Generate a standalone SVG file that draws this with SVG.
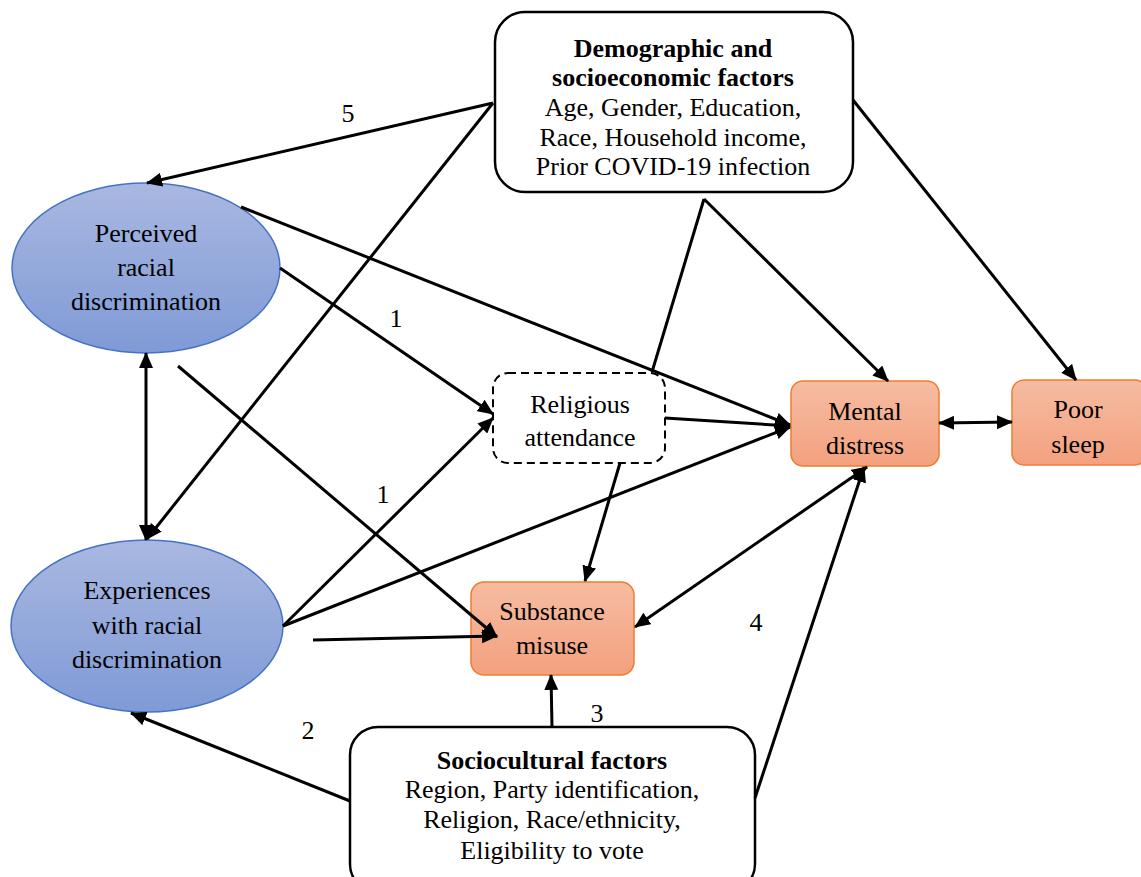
<svg xmlns="http://www.w3.org/2000/svg" width="1141" height="877" viewBox="0 0 1141 877">
<defs>
<linearGradient id="gBlue" x1="0" y1="0" x2="0" y2="1">
<stop offset="0" stop-color="#A9B8E1"/>
<stop offset="1" stop-color="#7F9AD6"/>
</linearGradient>
<linearGradient id="gOrange" x1="0" y1="0" x2="0" y2="1">
<stop offset="0" stop-color="#F6BCA2"/>
<stop offset="1" stop-color="#F3A17E"/>
</linearGradient>
<marker id="ah" markerUnits="userSpaceOnUse" markerWidth="16" markerHeight="14" refX="15" refY="7" orient="auto-start-reverse">
<path d="M0,0 L16,7 L0,14 Z" fill="#000"/>
</marker>
<style>
text{font-family:"Liberation Serif","Times New Roman",serif;font-size:26px;fill:#000;text-anchor:middle}
.b{font-weight:bold}
.box{fill:#fff;stroke:#000;stroke-width:2.5}
.ell{fill:url(#gBlue);stroke:#4472C4;stroke-width:1.5}
.or{fill:url(#gOrange);stroke:#ED7D31;stroke-width:1.5}
.dash{fill:#fff;stroke:#000;stroke-width:2;stroke-dasharray:8,5}
.c{fill:none;stroke:#000;stroke-width:3}
.a{marker-end:url(#ah)}
.d{marker-start:url(#ah);marker-end:url(#ah)}
</style>
</defs>
<rect width="1141" height="877" fill="#fff"/>

<g id="demographic">
<rect class="box" x="495" y="12" width="358" height="180" rx="30"/>
<text class="b" x="673" y="57">Demographic and</text>
<text class="b" x="673" y="86">socioeconomic factors</text>
<text x="673" y="116">Age, Gender, Education,</text>
<text x="673" y="146">Race, Household income,</text>
<text x="673" y="175">Prior COVID-19 infection</text>
</g>

<g id="perceived">
<ellipse class="ell" cx="146" cy="268" rx="134" ry="85"/>
<text x="146" y="242">Perceived</text>
<text x="146" y="276">racial</text>
<text x="146" y="310">discrimination</text>
</g>

<g id="experiences">
<ellipse class="ell" cx="147" cy="626" rx="136" ry="86"/>
<text x="147" y="599">Experiences</text>
<text x="147" y="634">with racial</text>
<text x="147" y="668">discrimination</text>
</g>

<g id="religious">
<rect class="dash" x="493" y="373" width="172" height="90" rx="15"/>
<text x="580" y="413">Religious</text>
<text x="580" y="446">attendance</text>
</g>

<g id="mental">
<rect class="or" x="791" y="381" width="148" height="85" rx="12"/>
<text x="865" y="420">Mental</text>
<text x="865" y="454">distress</text>
</g>

<g id="sleep">
<rect class="or" x="1012" y="380" width="135" height="85" rx="12"/>
<text x="1078" y="418">Poor</text>
<text x="1078" y="453">sleep</text>
</g>

<g id="substance">
<rect class="or" x="471" y="582" width="163" height="93" rx="13"/>
<text x="552" y="620">Substance</text>
<text x="552" y="654">misuse</text>
</g>

<g id="sociocultural">
<rect class="box" x="350" y="727" width="405" height="165" rx="28"/>
<text class="b" x="552" y="769">Sociocultural factors</text>
<text x="552" y="798">Region, Party identification,</text>
<text x="552" y="828">Religion, Race/ethnicity,</text>
<text x="552" y="859">Eligibility to vote</text>
</g>

<g id="connectors">
<line class="c a" x1="493" y1="103" x2="147" y2="183"/>
<line class="c a" x1="493" y1="103" x2="147" y2="539"/>
<line class="c d" x1="146" y1="353" x2="146" y2="540"/>
<line class="c a" x1="241" y1="207" x2="790" y2="425"/>
<line class="c a" x1="280" y1="268" x2="493" y2="414"/>
<line class="c a" x1="178" y1="366" x2="497" y2="637"/>
<line class="c a" x1="283" y1="626" x2="493" y2="418"/>
<line class="c a" x1="283" y1="626" x2="790" y2="427"/>
<line class="c a" x1="313" y1="640" x2="497" y2="636"/>
<line class="c a" x1="665" y1="418" x2="790" y2="426"/>
<line class="c a" x1="620" y1="463" x2="585" y2="581"/>
<polyline class="c" points="652,372 704,199"/>
<line class="c a" x1="704" y1="199" x2="888" y2="381"/>
<line class="c a" x1="853" y1="100" x2="1076" y2="380"/>
<line class="c d" x1="939" y1="423" x2="1012" y2="422"/>
<line class="c d" x1="867" y1="467" x2="635" y2="627"/>
<line class="c a" x1="755" y1="798" x2="864" y2="467"/>
<line class="c a" x1="552" y1="727" x2="551" y2="675"/>
<line class="c a" x1="350" y1="801" x2="131" y2="713"/>
<text x="348" y="122">5</text>
<text x="396" y="327">1</text>
<text x="383" y="503">1</text>
<text x="756" y="631">4</text>
<text x="308" y="739">2</text>
<text x="597" y="722">3</text>
</g>
</svg>
